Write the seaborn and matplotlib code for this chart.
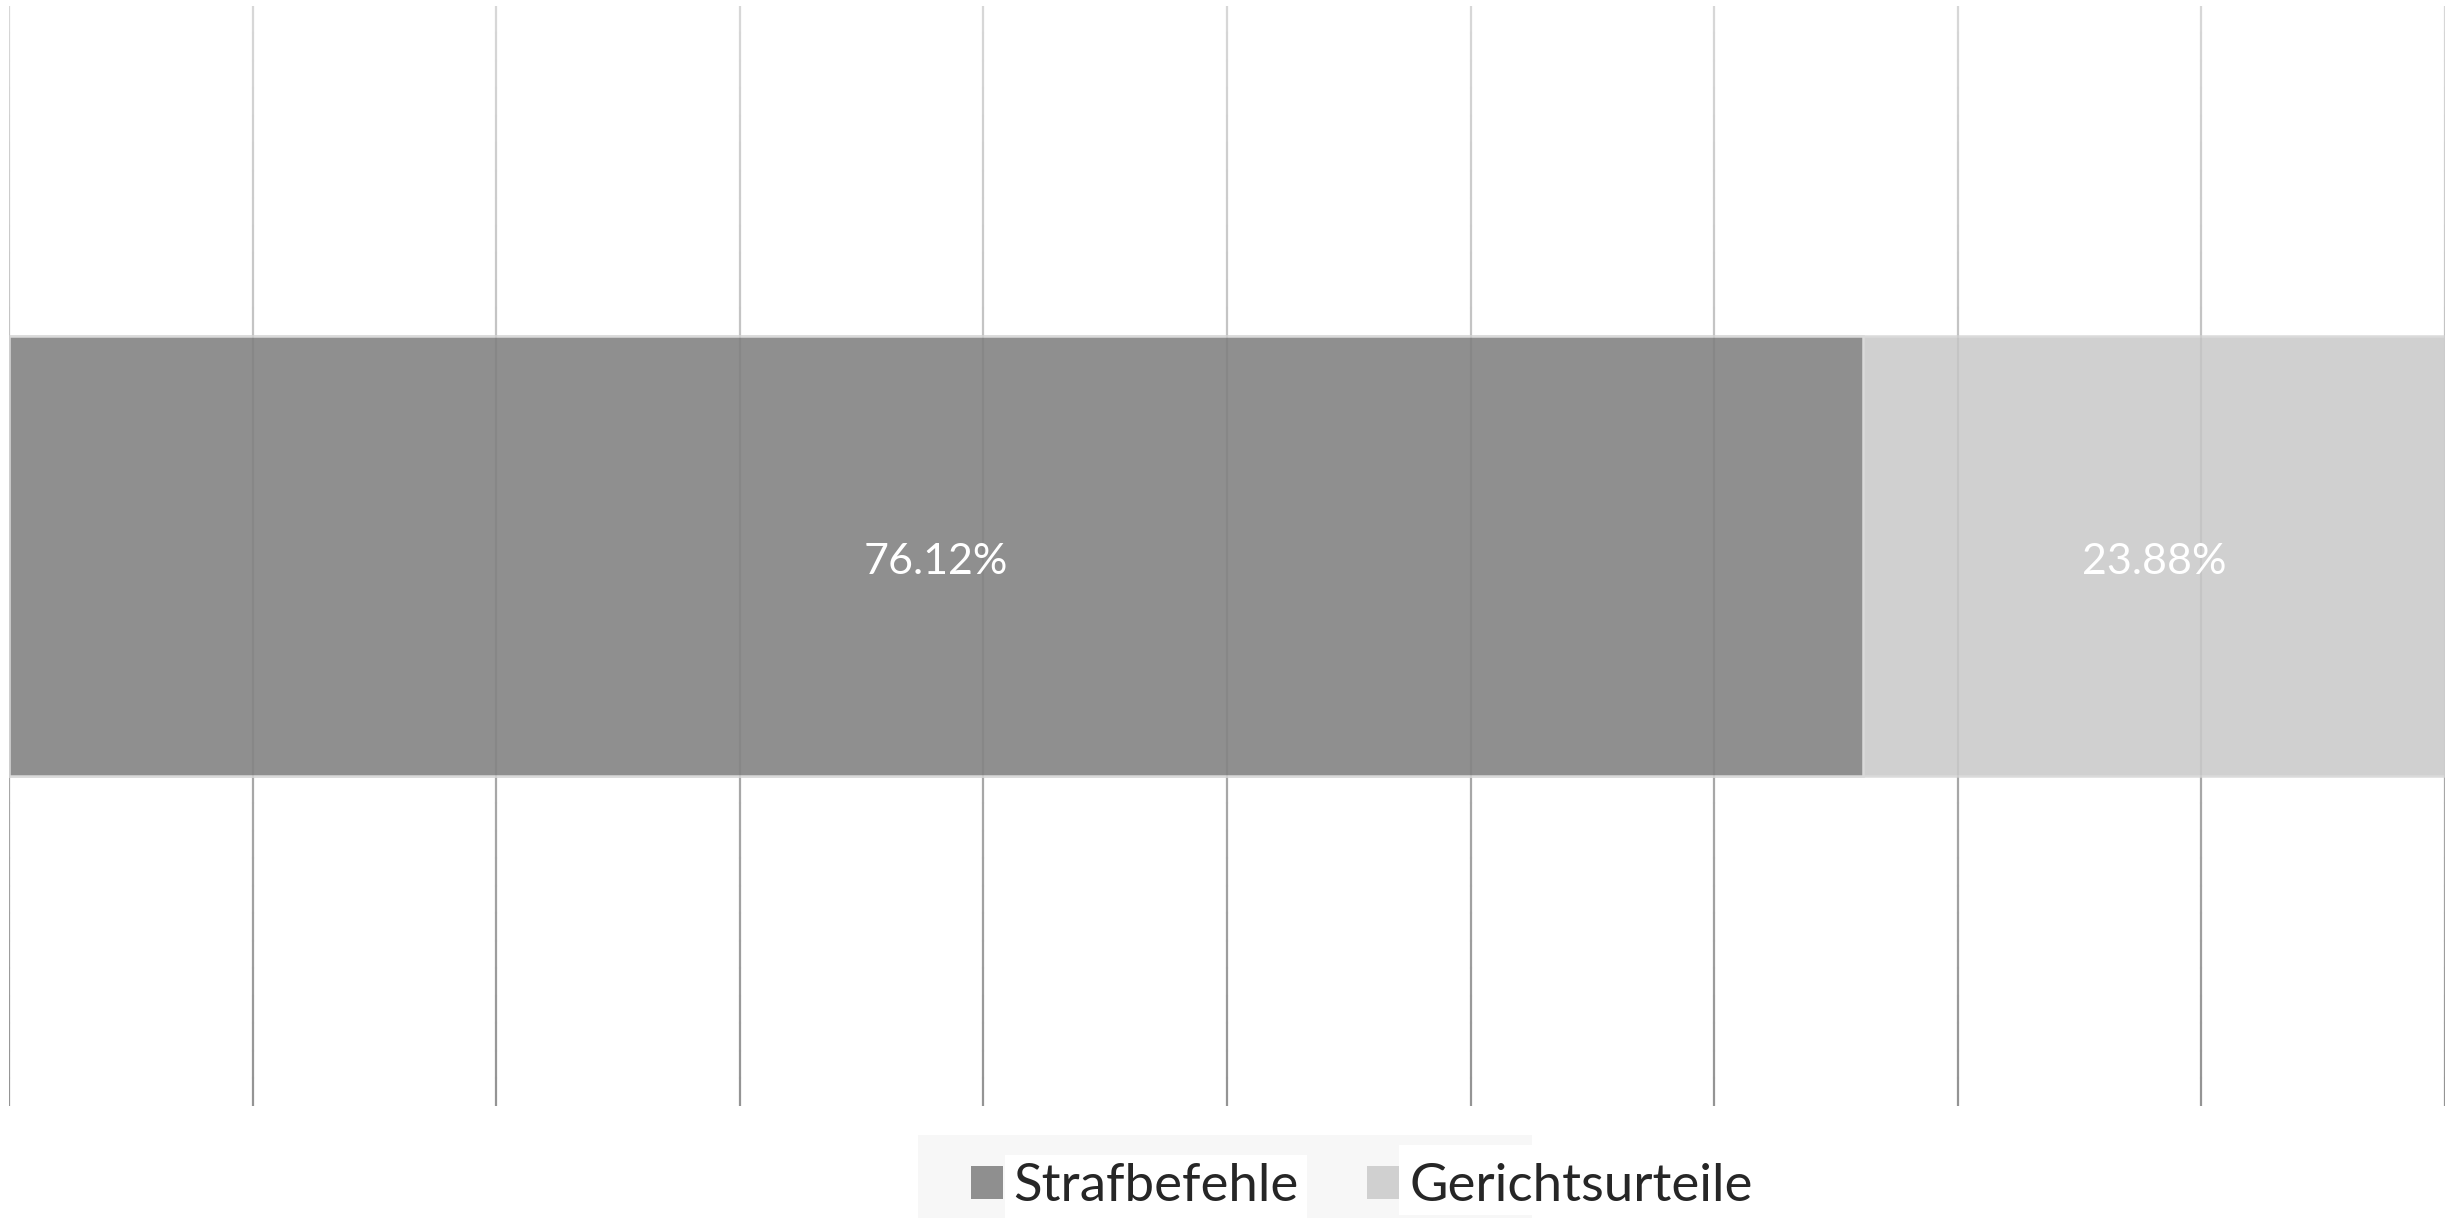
import numpy as np
import pandas as pd
import matplotlib
matplotlib.use("Agg")
import matplotlib.pyplot as plt
import matplotlib.colors as mcolors
from matplotlib.patches import Patch, Rectangle
import seaborn as sns

# Daten
kategorie = ["Gesamt"]
serien = ["Strafbefehle", "Gerichtsurteile"]
anteile = [76.12, 23.88]
farben = ["#8f8f8f", "#d0d0d0"]
x_ticks = list(range(0, 101, 10))

sns.set_theme(style="white")
plt.rcParams["font.family"] = ["Lato", "DejaVu Sans"]

df = pd.DataFrame({"kategorie": kategorie * 2,
                   "serie": serien,
                   "wert": anteile})
df["kumuliert"] = df["wert"].cumsum()

fig = plt.figure(figsize=(24.56, 12.21), dpi=100)
ax = fig.add_axes([0.00366, 0.0942, 0.99186, 0.90089])

# Gitterlinien mit Verlauf (oben hell, unten dunkler)
n_seg = 40
c_oben = np.array(mcolors.to_rgb("#e4e4e4"))
c_unten = np.array(mcolors.to_rgb("#9c9c9c"))
for i in range(n_seg):
    y0 = 1 - (i + 1) / n_seg
    y1 = 1 - i / n_seg
    c = c_oben + (c_unten - c_oben) * (i + 0.5) / n_seg
    for xt in x_ticks:
        ax.axvline(xt, ymin=y0, ymax=y1, color=c, lw=1.6, zorder=0)

# gestapelte Balken: erst Summe, dann vorderes Segment darueber
for i in reversed(range(len(serien))):
    sub = df.iloc[[i]]
    sns.barplot(data=sub, x="kumuliert", y="kategorie", orient="h",
                color=farben[i], width=0.4, saturation=1,
                edgecolor="#dadada", linewidth=1.8, ax=ax, zorder=2)

# leichte Gitterlinien ueber den Balken
for xt in x_ticks:
    ax.axvline(xt, color="black", alpha=0.05, lw=1.6, zorder=3)

# Beschriftung in der Mitte jedes Segments
mitten = df["kumuliert"] - df["wert"] / 2
for m, w in zip(mitten, anteile):
    ax.annotate(f"{w:.2f}%", xy=(m, 0), xytext=(0, -4.5),
                textcoords="offset points", ha="center", va="center",
                color="white", fontsize=31, zorder=4)

ax.set_xlim(0, 100)
ax.set_ylim(0.5, -0.5)
ax.set_xticks(x_ticks)
ax.set_xticklabels([])
ax.set_yticks([])
ax.set_xlabel("")
ax.set_ylabel("")
sns.despine(ax=ax, left=True, bottom=True)
ax.tick_params(length=0)

# Legendenhintergrund (schmaler als der Inhalt, wie im Original)
fig.patches.append(Rectangle((0.3738, 0.0025), 0.25, 0.068,
                             transform=fig.transFigure, facecolor="#f7f7f7",
                             edgecolor="none", zorder=0))
fig.patches.append(Rectangle((0.5696, 0.0049), 0.0542, 0.0574,
                             transform=fig.transFigure, facecolor="white",
                             edgecolor="none", zorder=1))

handles = [Patch(facecolor=f, edgecolor="none") for f in farben]
leg = fig.legend(handles, serien, loc="center left",
                 bbox_to_anchor=(0.3955, 0.028), borderaxespad=0,
                 ncol=2, frameon=False, fontsize=38, handlelength=0.6,
                 handleheight=0.6, handletextpad=0.2, columnspacing=1.3,
                 borderpad=0)
leg.set_zorder(5)
leg.get_texts()[0].set_bbox(dict(facecolor="white", edgecolor="none", pad=6))

fig.savefig("out.png", dpi=100, facecolor="white")
